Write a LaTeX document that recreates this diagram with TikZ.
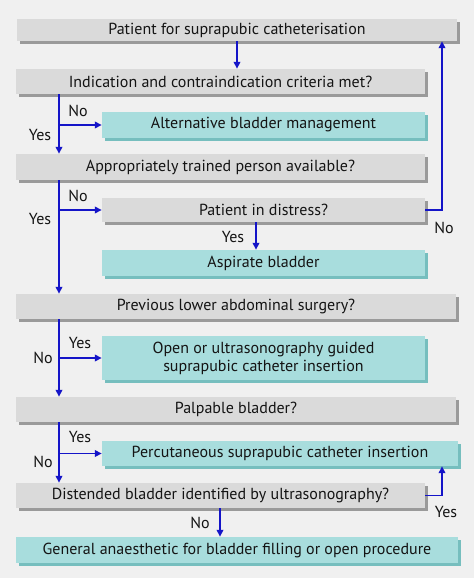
\documentclass[tikz,border=0pt]{standalone}
\usepackage{fontspec}
\setmainfont{PT Sans}
\usetikzlibrary{arrows.meta,shadows}
\definecolor{bg}{HTML}{F0F0F0}
\definecolor{grayfill}{HTML}{DADADA}
\definecolor{grayshadow}{HTML}{9A9A9A}
\definecolor{tealfill}{HTML}{A8DDDD}
\definecolor{tealshadow}{HTML}{76BEBE}
\definecolor{arrowblue}{HTML}{1414C8}
\definecolor{textcol}{HTML}{141414}
\tikzset{
  box/.style={rectangle, inner sep=0pt, align=center, font=\fontsize{16}{18}\selectfont, text=textcol},
  qbox/.style={box, fill=grayfill, drop shadow={shadow xshift=3pt, shadow yshift=-3pt, fill=grayshadow, opacity=1}},
  abox/.style={box, fill=tealfill, drop shadow={shadow xshift=3pt, shadow yshift=-3pt, fill=tealshadow, opacity=1}},
  conn/.style={draw=arrowblue, line width=1.8pt, -{Triangle[length=7pt,width=6.5pt]}},
  lbl/.style={font=\fontsize{16}{18}\selectfont, text=textcol, inner sep=0pt},
}
\begin{document}
\begin{tikzpicture}[x=1pt,y=-1pt]
\fill[bg] (0,0) rectangle (474,578);
\useasboundingbox (0,0) rectangle (474,578);
\coordinate (sp) at (59,0);
\coordinate (rt) at (442,0);

\node[qbox, minimum width=440, minimum height=22] (b1) at (237,30) {Patient for suprapubic catheterisation};
\node[qbox, minimum width=409, minimum height=25] (b2) at (220.5,81.5) {Indication and contraindication criteria met?};
\node[abox, minimum width=323, minimum height=26] (b3) at (263.5,125) {Alternative bladder management};
\node[qbox, minimum width=409, minimum height=26] (b4) at (220.5,167) {Appropriately trained person available?};
\node[qbox, minimum width=323, minimum height=24] (b5) at (263.5,210) {Patient in distress?};
\node[abox, minimum width=323, minimum height=26] (b6) at (263.5,263) {Aspirate bladder};
\node[qbox, minimum width=440, minimum height=25] (b7) at (236,306.5) {Previous lower abdominal surgery?};
\node[abox, minimum width=323, minimum height=44] (b8) at (263.5,358) {Open or ultrasonography guided\\suprapubic catheter insertion};
\node[qbox, minimum width=440, minimum height=25] (b9) at (236,409.5) {Palpable bladder?};
\node[abox, minimum width=356, minimum height=25] (b10) at (280,453.5) {Percutaneous suprapubic catheter insertion};
\node[qbox, minimum width=409, minimum height=25] (b11) at (220.5,495.5) {Distended bladder identified by ultrasonography?};
\node[abox, minimum width=442, minimum height=26] (b12) at (237,550) {General anaesthetic for bladder filling or open procedure};

% connectors
\draw[conn] (b1.south) -- (b2.north -| b1.south);
\draw[conn] (b2.south -| sp) -- (b4.north -| sp);
\draw[conn] (b3.west -| sp) -- (b3.west);
\draw[conn] (b4.south -| sp) -- (b7.north -| sp);
\draw[conn] (b5.west -| sp) -- (b5.west);
\draw[conn] (b5.east) -- (b5.east -| rt) -- (b1.south -| rt);
\draw[conn] (b5.south -| 256,0) -- (b6.north -| 256,0);
\draw[conn] (b7.south -| sp) -- (b9.north -| sp);
\draw[conn] (b8.west -| sp) -- (b8.west);
\draw[conn] (b9.south -| sp) -- (b11.north -| sp);
\draw[conn] (b10.west -| sp) -- (b10.west);
\draw[conn] (b11.east) -- (b11.east -| rt) -- (b10.south -| rt);
\draw[conn] (b11.south -| 220,0) -- (b12.north -| 220,0);

% labels
\node[lbl] (l1) at (78,111) {No};
\node[lbl] (l2) at (40,135) {Yes};
\node[lbl] (l3) at (78,196) {No};
\node[lbl] (l4) at (40,219) {Yes};
\node[lbl] (l5) at (444,228) {No};
\node[lbl] (l6) at (233,237) {Yes};
\node[lbl] (l7) at (80,343) {Yes};
\node[lbl] (l8) at (43,358) {No};
\node[lbl] (l9) at (80,437) {Yes};
\node[lbl] (l10) at (43,462) {No};
\node[lbl] (l11) at (446,512) {Yes};
\node[lbl] (l12) at (200,523) {No};
\end{tikzpicture}
\end{document}
